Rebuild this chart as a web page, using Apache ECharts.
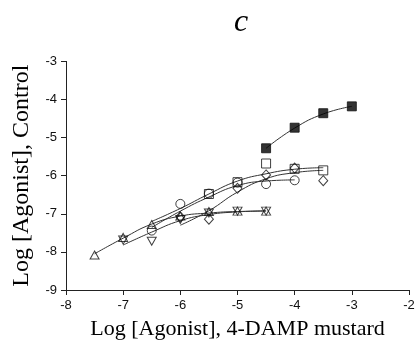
<!DOCTYPE html>
<html><head><meta charset="utf-8">
<script src="https://cdn.jsdelivr.net/npm/echarts@6/dist/echarts.min.js"></script>
<style>html,body{margin:0;padding:0;background:#fff}#c{width:418px;height:351px}</style>
</head><body><div id="c"></div>
<script>
// Observed data points (x = log agonist, 4-DAMP mustard; y = log agonist, control)
const filledSquare = [[-4.5,-5.28],[-4,-4.74],[-3.5,-4.36],[-3,-4.18]];
const openSquare   = [[-5.5,-6.48],[-5,-6.17],[-4.5,-5.68],[-4,-5.82],[-3.5,-5.86]];
const openCircle   = [[-6.5,-7.44],[-6,-6.74],[-5.5,-6.47],[-5,-6.18],[-4.5,-6.22],[-4,-6.12]];
const openDiamond  = [[-6,-7.08],[-5.5,-7.14],[-5,-6.33],[-4.5,-5.98],[-4,-5.8],[-3.5,-6.13]];
const triUp        = [[-7.5,-8.08],[-7,-7.62],[-6.5,-7.28],[-6,-7.06],[-5.5,-6.94],[-5,-6.93],[-4.5,-6.93]];
const triDown      = [[-7,-7.69],[-6.5,-7.72],[-6,-7.15],[-5.5,-6.98],[-5,-6.93],[-4.5,-6.93]];

// Fitted curves
const curveFilledSquare = [[-4.5,-5.28],[-4,-4.75],[-3.5,-4.38],[-3,-4.18]];
const curveSquare  = [[-6.5,-7.2],[-6,-6.86],[-5.5,-6.48],[-5,-6.14],[-4.5,-5.95],[-4,-5.83],[-3.5,-5.79]];
const curveCircle  = [[-6.5,-7.36],[-6,-6.93],[-5.5,-6.56],[-5,-6.26],[-4.5,-6.14],[-4,-6.11]];
const curveDiamond = [[-6,-7.3],[-5.5,-6.92],[-5,-6.43],[-4.5,-6.08],[-4,-5.92],[-3.5,-5.86]];
const curveTriUp   = [[-7.5,-8.05],[-7,-7.64],[-6.5,-7.27],[-6,-7.06],[-5.5,-6.98],[-5,-6.94],[-4.5,-6.93]];
const curveTriDown = [[-7,-7.82],[-6.5,-7.48],[-6,-7.18],[-5.5,-7.02],[-5,-6.95],[-4.5,-6.92]];

const xTicks = [-8,-7,-6,-5,-4,-3,-2];
const yTicks = [-9,-8,-7,-6,-5,-4,-3];

const serif = 'Liberation Serif';
const sans = 'Liberation Sans';
const ink = '#222';
const lineSeries = (d) => ({type:'line', data:d, smooth:true, showSymbol:false, silent:true,
  lineStyle:{color:'#333', width:1}, z:2});
const pts = (d, sym, size, fill, rot) => ({type:'scatter', data:d, symbol:sym, symbolSize:size,
  symbolRotate: rot||0, itemStyle:{color: fill, borderColor:'#111', borderWidth:1}, z:3});

const chart = echarts.init(document.getElementById('c'));
chart.setOption({
  animation:false,
  title:{text:'c', left:236, top:2, textAlign:'center',
    textStyle:{fontFamily:serif, fontStyle:'italic', fontWeight:'normal', fontSize:32, color:'#000'}},
  grid:{left:66, right:9, top:61.4, bottom:61},
  xAxis:{type:'value', min:xTicks[0], max:xTicks[xTicks.length-1], interval:1,
    name:'Log [Agonist], 4-DAMP mustard', nameLocation:'middle', nameGap:28,
    nameTextStyle:{fontFamily:serif, fontSize:22, color:'#000'},
    axisLine:{onZero:false, lineStyle:{color:ink, width:1}},
    axisTick:{length:5, lineStyle:{color:ink}},
    axisLabel:{fontFamily:sans, fontSize:13, color:'#111', margin:9},
    splitLine:{show:false}},
  yAxis:{type:'value', min:yTicks[0], max:yTicks[yTicks.length-1], interval:1,
    name:'Log [Agonist], Control', nameLocation:'middle', nameGap:32,
    nameTextStyle:{fontFamily:serif, fontSize:24, color:'#000'},
    axisLine:{show:true, onZero:false, lineStyle:{color:ink, width:1}},
    axisTick:{show:true, length:5, lineStyle:{color:ink}},
    axisLabel:{fontFamily:sans, fontSize:13, color:'#111', margin:9},
    splitLine:{show:false}},
  series:[
    lineSeries(curveFilledSquare), lineSeries(curveSquare), lineSeries(curveCircle),
    lineSeries(curveDiamond), lineSeries(curveTriUp), lineSeries(curveTriDown),
    pts(filledSquare,'rect',9,'#000'),
    pts(openSquare,'rect',9,'rgba(0,0,0,0)'),
    pts(openCircle,'circle',9,'rgba(0,0,0,0)'),
    pts(openDiamond,'diamond',[9,10],'rgba(0,0,0,0)'),
    pts(triUp,'triangle',[9,8],'rgba(0,0,0,0)'),
    pts(triDown,'triangle',[9,8],'rgba(0,0,0,0)',180)
  ]
});
</script></body></html>
